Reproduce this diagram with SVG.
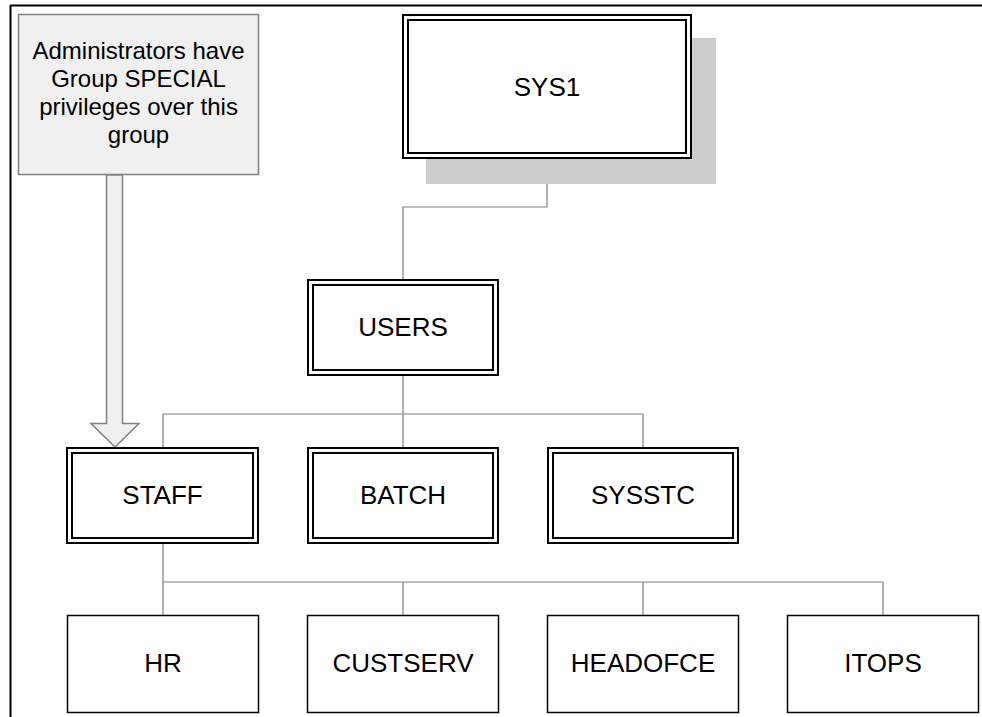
<svg xmlns="http://www.w3.org/2000/svg" width="982" height="717" viewBox="0 0 982 717">
<style>
.lbl{font-family:"Liberation Sans",Arial,sans-serif;font-size:26px;fill:#000;text-anchor:middle}
.note{font-family:"Liberation Sans",Arial,sans-serif;font-size:24px;fill:#000;text-anchor:middle}
.dbl{fill:#fff;stroke:#000;stroke-width:2}
.dbli{fill:none;stroke:#000;stroke-width:2}
.sgl{fill:#fff;stroke:#000;stroke-width:1.5}
.con{fill:none;stroke:#808080;stroke-width:1.2}
</style>
<rect x="0" y="0" width="982" height="717" fill="#fff"/>
<g id="frame">
<path d="M10 5.5H982M10.5 5V717" fill="none" stroke="#000" stroke-width="2"/>
</g>
<g id="connectors">
<path class="con" d="M547 159V207H403V280"/>
<path class="con" d="M403 376V414M163 448V414H643V448M403 414V448"/>
<path class="con" d="M163 544V582M163 615V582H883V615M403 582V615M643 582V615"/>
</g>
<g id="note">
<rect x="18.5" y="14.5" width="240" height="160" fill="#f0f0f0" stroke="#808080" stroke-width="1.5"/>
<text class="note" x="138.5" y="59">Administrators have</text>
<text class="note" x="138.5" y="87">Group SPECIAL</text>
<text class="note" x="138.5" y="115">privileges over this</text>
<text class="note" x="138.5" y="143">group</text>
</g>
<g id="arrow">
<path d="M106.5 175V423.5H91L115 447L139 423.5H122.5V175Z" fill="#f0f0f0" stroke="#808080" stroke-width="1.5"/>
</g>
<g id="SYS1">
<rect x="426" y="38" width="290" height="146" fill="#cccccc"/>
<rect class="dbl" x="403" y="15" width="288" height="143"/>
<rect class="dbli" x="408" y="20" width="278" height="133"/>
<text class="lbl" x="547" y="96">SYS1</text>
</g>
<g id="USERS">
<rect class="dbl" x="308" y="280" width="190" height="95"/>
<rect class="dbli" x="313" y="285" width="180" height="85"/>
<text class="lbl" x="403" y="336">USERS</text>
</g>
<g id="STAFF">
<rect class="dbl" x="67" y="448" width="191" height="95"/>
<rect class="dbli" x="72" y="453" width="181" height="85"/>
<text class="lbl" x="162.5" y="504">STAFF</text>
</g>
<g id="BATCH">
<rect class="dbl" x="308" y="448" width="190" height="95"/>
<rect class="dbli" x="313" y="453" width="180" height="85"/>
<text class="lbl" x="403" y="504">BATCH</text>
</g>
<g id="SYSSTC">
<rect class="dbl" x="548" y="448" width="190" height="95"/>
<rect class="dbli" x="553" y="453" width="180" height="85"/>
<text class="lbl" x="643" y="504">SYSSTC</text>
</g>
<g id="HR">
<rect class="sgl" x="67.5" y="615.5" width="191" height="97"/>
<text class="lbl" x="163" y="672">HR</text>
</g>
<g id="CUSTSERV">
<rect class="sgl" x="307.5" y="615.5" width="191" height="97"/>
<text class="lbl" x="403" y="672">CUSTSERV</text>
</g>
<g id="HEADOFCE">
<rect class="sgl" x="547.5" y="615.5" width="191" height="97"/>
<text class="lbl" x="643" y="672">HEADOFCE</text>
</g>
<g id="ITOPS">
<rect class="sgl" x="787.5" y="615.5" width="191" height="97"/>
<text class="lbl" x="883" y="672">ITOPS</text>
</g>
</svg>
